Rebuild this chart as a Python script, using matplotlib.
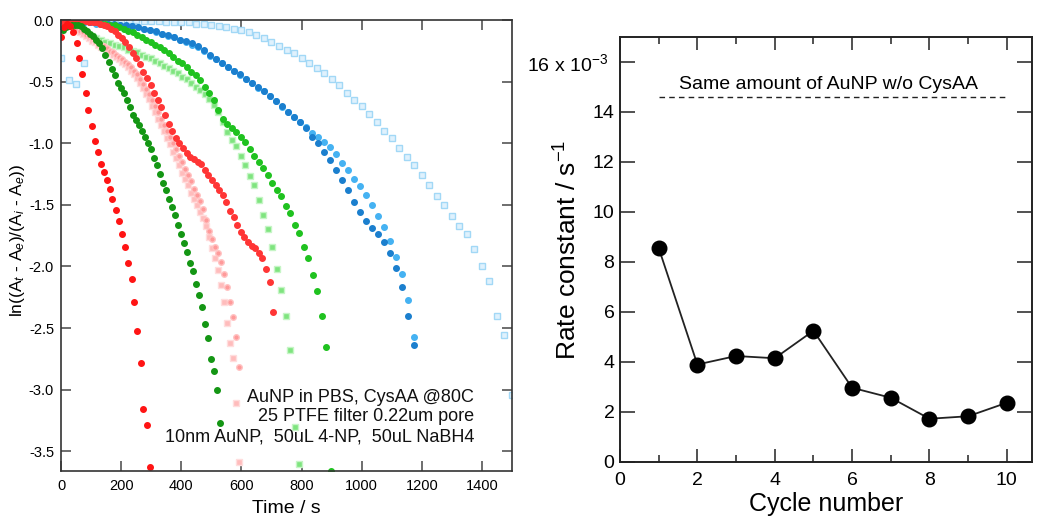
import matplotlib
matplotlib.use('Agg')
import matplotlib.pyplot as plt
import matplotlib.transforms as mtransforms
from matplotlib.ticker import MultipleLocator

plt.rcParams['font.family'] = ['Liberation Sans', 'DejaVu Sans']
plt.rcParams['mathtext.fontset'] = 'custom'
plt.rcParams['mathtext.rm'] = 'Liberation Sans'
plt.rcParams['mathtext.it'] = 'Liberation Sans:italic'
plt.rcParams['mathtext.bf'] = 'Liberation Sans:bold'
plt.rcParams['axes.unicode_minus'] = False

# ---------------- left panel data: ln((At-Ae)/(Ai-Ae)) vs time ----------------
red1_t = [0, 10, 21, 31, 41, 52, 60, 71, 83, 91, 102, 113, 122, 133, 143, 152, 162, 171,
          183, 194, 202, 213, 224, 235, 244, 254, 265, 274, 286, 296]
red1_y = [-0.14, -0.06, -0.03, -0.05, -0.10, -0.19, -0.31, -0.44, -0.59, -0.73, -0.86, -0.98,
          -1.07, -1.17, -1.23, -1.30, -1.37, -1.45, -1.54, -1.63, -1.74, -1.84, -1.97, -2.10,
          -2.29, -2.52, -2.78, -3.16, -3.29, -3.63]

dg1_t = [8, 18, 28, 38, 48, 58, 68, 78, 88, 98, 108, 118, 128, 138, 148, 158, 168, 178, 188,
         198, 208, 218, 228, 238, 248, 258, 268, 278, 288, 298, 308, 318, 328, 338, 348, 358,
         368, 378, 388, 398, 408, 418, 428, 438, 448, 458, 468, 478, 488, 498, 508, 518, 528]
dg1_y = [-0.08, -0.06, -0.05, -0.04, -0.04, -0.04, -0.05, -0.07, -0.09, -0.11, -0.13, -0.16,
         -0.19, -0.23, -0.28, -0.34, -0.40, -0.45, -0.51, -0.55, -0.59, -0.65, -0.71, -0.77,
         -0.81, -0.85, -0.90, -0.95, -1.00, -1.05, -1.12, -1.18, -1.25, -1.32, -1.38, -1.45,
         -1.52, -1.58, -1.66, -1.74, -1.81, -1.88, -1.97, -2.04, -2.14, -2.23, -2.33, -2.47,
         -2.58, -2.75, -2.85, -3.00, -3.27]

red2_t = [10, 22, 34, 46, 58, 70, 82, 94, 106, 118, 130, 142, 154, 166, 178, 190, 202, 214,
          226, 238, 250, 262, 274, 286, 298, 310, 322, 334, 346, 358, 370, 382, 394, 406, 418,
          430, 442, 454, 466, 478, 490, 502, 514, 526, 538, 550, 562, 574, 586, 598, 610, 622,
          634, 646, 658, 670, 682, 694, 706]
red2_y = [-0.02, -0.01, 0.00, 0.00, -0.01, -0.01, -0.01, -0.02, -0.02, -0.02, -0.03, -0.04,
          -0.05, -0.07, -0.09, -0.12, -0.15, -0.18, -0.22, -0.27, -0.31, -0.36, -0.42, -0.47,
          -0.53, -0.59, -0.65, -0.71, -0.77, -0.84, -0.90, -0.96, -1.00, -1.04, -1.08, -1.11,
          -1.13, -1.15, -1.17, -1.22, -1.26, -1.30, -1.34, -1.38, -1.42, -1.48, -1.55, -1.60,
          -1.66, -1.72, -1.76, -1.80, -1.83, -1.85, -1.89, -1.93, -2.02, -2.13, -2.37]

pink_t = [3, 13, 23, 33, 43, 53, 63, 73, 83, 93, 103, 113, 123, 133, 143, 153, 163, 173, 183,
          193, 203, 213, 223, 233, 243, 253, 263, 273, 283, 293, 303, 313, 323, 333, 343, 353,
          363, 373, 383, 393, 403, 413, 423, 433, 443, 453, 463, 473, 483, 493, 503, 513, 523,
          533, 543, 553, 563, 573, 583, 593]
pinkA_y = [-0.06, -0.04, -0.03, -0.04, -0.05, -0.07, -0.09, -0.10, -0.12, -0.13,
           -0.15, -0.16, -0.18, -0.20, -0.21, -0.23, -0.25, -0.26, -0.28, -0.30,
           -0.32, -0.34, -0.36, -0.38, -0.41, -0.44, -0.48, -0.52, -0.56, -0.60,
           -0.65, -0.70, -0.75, -0.80, -0.85, -0.90, -0.95, -1.00, -1.05, -1.10,
           -1.15, -1.21, -1.26, -1.31, -1.37, -1.42, -1.47, -1.53, -1.62, -1.71,
           -1.78, -1.84, -1.89, -1.96, -2.06, -2.17, -2.29, -2.41, -2.57, -2.82]
pinkB_y = [-0.08, -0.05, -0.04, -0.05, -0.06, -0.08, -0.10, -0.11, -0.13, -0.15,
           -0.17, -0.18, -0.20, -0.22, -0.23, -0.25, -0.27, -0.28, -0.30, -0.32,
           -0.34, -0.36, -0.38, -0.41, -0.44, -0.47, -0.51, -0.55, -0.60, -0.64,
           -0.70, -0.75, -0.80, -0.85, -0.90, -0.96, -1.01, -1.07, -1.12, -1.18,
           -1.24, -1.29, -1.34, -1.40, -1.45, -1.50, -1.56, -1.61, -1.67, -1.76,
           -1.85, -1.93, -2.03, -2.15, -2.29, -2.46, -2.62, -2.74, -3.11, -3.59]

lg_t = [13, 28, 43, 58, 73, 88, 103, 118, 133, 148, 163, 178, 193, 208, 223, 238, 253, 268,
        283, 298, 313, 328, 343, 358, 373, 388, 403, 418, 433, 448, 463, 478, 493, 508, 523,
        538, 553, 568, 583, 598, 613, 628, 643, 658, 673, 688, 703, 718, 733, 748, 763, 778, 793]
lg_y = [-0.05, -0.04, -0.05, -0.07, -0.09, -0.11, -0.13, -0.15, -0.16, -0.18,
        -0.19, -0.20, -0.21, -0.22, -0.24, -0.25, -0.26, -0.28, -0.30, -0.31,
        -0.33, -0.35, -0.37, -0.39, -0.41, -0.43, -0.46, -0.48, -0.51, -0.54,
        -0.57, -0.60, -0.64, -0.69, -0.75, -0.83, -0.91, -0.97, -1.02, -1.10,
        -1.18, -1.27, -1.34, -1.46, -1.58, -1.70, -1.84, -2.02, -2.19, -2.40,
        -2.68, -3.30, -3.60]

g2_t = [13, 28, 43, 58, 73, 88, 103, 118, 133, 148, 163, 178, 193, 208, 223, 238, 253, 268,
        283, 298, 313, 328, 343, 358, 373, 388, 403, 418, 433, 448, 463, 478, 493, 508, 523,
        538, 553, 568, 583, 598, 613, 628, 643, 658, 673, 688, 703, 718, 733, 748, 763, 778,
        793, 808, 823, 838, 853, 868, 883, 898]
g2_y = [-0.01, 0.00, 0.00, -0.01, -0.01, -0.01, -0.01, -0.02, -0.03, -0.03,
        -0.04, -0.04, -0.06, -0.07, -0.09, -0.10, -0.12, -0.14, -0.16, -0.18,
        -0.20, -0.22, -0.24, -0.27, -0.30, -0.33, -0.35, -0.38, -0.42, -0.45,
        -0.49, -0.54, -0.59, -0.65, -0.73, -0.80, -0.84, -0.88, -0.91, -0.95,
        -0.99, -1.05, -1.10, -1.15, -1.20, -1.26, -1.32, -1.38, -1.43, -1.51,
        -1.57, -1.66, -1.73, -1.84, -1.93, -2.07, -2.20, -2.40, -2.65, -3.66]

blue_t = [15, 35, 55, 75, 95, 115, 135, 155, 175, 195, 215, 235, 255, 275, 295, 315, 335, 355,
          375, 395, 415, 435, 455, 475, 495, 515, 535, 555, 575, 595, 615, 635, 655, 675, 695,
          715, 735, 755, 775, 795, 815, 835, 855, 875, 895, 915, 935, 955, 975, 995, 1015, 1035,
          1055, 1075, 1095, 1115, 1135, 1155, 1175]
blueA_y = [-0.03, -0.03, -0.02, -0.02, -0.02, -0.02, -0.03, -0.03, -0.03, -0.04,
           -0.04, -0.05, -0.06, -0.07, -0.08, -0.09, -0.11, -0.12, -0.14, -0.16,
           -0.17, -0.19, -0.21, -0.24, -0.28, -0.32, -0.35, -0.38, -0.41, -0.44,
           -0.48, -0.51, -0.54, -0.58, -0.62, -0.66, -0.70, -0.75, -0.79, -0.83,
           -0.88, -0.95, -1.00, -1.07, -1.14, -1.22, -1.30, -1.38, -1.48, -1.56,
           -1.63, -1.69, -1.74, -1.80, -1.89, -2.01, -2.17, -2.40, -2.64]
blueB_y = [-0.04, -0.03, -0.03, -0.02, -0.02, -0.03, -0.03, -0.03, -0.04, -0.04,
           -0.05, -0.05, -0.06, -0.07, -0.08, -0.10, -0.11, -0.13, -0.14, -0.16,
           -0.18, -0.20, -0.22, -0.25, -0.29, -0.32, -0.35, -0.38, -0.41, -0.45,
           -0.48, -0.51, -0.55, -0.58, -0.62, -0.66, -0.71, -0.75, -0.79, -0.83,
           -0.87, -0.92, -0.95, -0.99, -1.03, -1.09, -1.16, -1.22, -1.29, -1.35,
           -1.42, -1.50, -1.59, -1.68, -1.79, -1.92, -2.06, -2.27, -2.57]

lblue_t = [0, 25, 50, 75, 100, 125, 150, 175, 200, 225, 250, 275, 300, 325, 350, 375, 400,
           425, 450, 475, 500, 525, 550, 575, 600, 625, 650, 675, 700, 725, 750, 775, 800, 825,
           850, 875, 900, 925, 950, 975, 1000, 1025, 1050, 1075, 1100, 1125, 1150, 1175, 1200,
           1225, 1250, 1275, 1300, 1325, 1350, 1375, 1400, 1425, 1450, 1475, 1500]
lblue_y = [-0.31, -0.49, -0.52, -0.35, -0.01, -0.01, 0.00, 0.00, 0.00, 0.00,
           0.00, -0.01, -0.01, -0.01, -0.02, -0.02, -0.02, -0.02, -0.03, -0.03,
           -0.04, -0.05, -0.06, -0.07, -0.08, -0.10, -0.12, -0.15, -0.18, -0.21,
           -0.24, -0.27, -0.31, -0.35, -0.39, -0.43, -0.48, -0.53, -0.59, -0.65,
           -0.70, -0.76, -0.83, -0.90, -0.96, -1.04, -1.11, -1.18, -1.26, -1.34,
           -1.43, -1.50, -1.59, -1.67, -1.74, -1.86, -2.00, -2.12, -2.40, -2.56,
           -3.04]

annotation_lines = ["AuNP in PBS, CysAA @80C",
                    "25 PTFE filter 0.22um pore",
                    "10nm AuNP,  50uL 4-NP,  50uL NaBH4"]

# ---------------- right panel data: rate constant vs cycle ----------------
cycles = [1, 2, 3, 4, 5, 6, 7, 8, 9, 10]
rate_k = [8.56, 3.90, 4.24, 4.15, 5.25, 2.97, 2.57, 1.73, 1.83, 2.37]   # x 10^-3 s^-1
ref_level = 14.6                                                      # x 10^-3 s^-1
ref_span = [1, 10]
ref_text = "Same amount of AuNP w/o CysAA"
yticks_r = [0, 2, 4, 6, 8, 10, 12, 14, 16]
ytick_labels_r = ['0', '2', '4', '6', '8', '10', '12', '14', r'16 x 10$^{-3}$']

W, H = 1039, 517
fig = plt.figure(figsize=(W / 100, H / 100), dpi=100)

# ---------- left panel ----------
ax = fig.add_axes([61 / W, 1 - 471 / H, 451 / W, 451 / H])

series = [
    (lblue_t, lblue_y, 's', 3.7, '#dff1fd', '#a2d8f6'),
    (blue_t, blueB_y, 'o', 4.0, '#45b2f2', '#45b2f2'),
    (blue_t, blueA_y, 'o', 4.0, '#1b7fce', '#1b7fce'),
    (lg_t, lg_y, 's', 3.8, '#7fe47f', '#c6f5c6'),
    (g2_t, g2_y, 'o', 4.0, '#1fc21f', '#1fc21f'),
    (pink_t, pinkB_y, 's', 3.8, '#ffbcbc', '#ffdede'),
    (pink_t, pinkA_y, 'o', 4.0, '#ff9a9a', '#ffc4c4'),
    (red2_t, red2_y, 'o', 4.0, '#ff3535', '#ff3535'),
    (dg1_t, dg1_y, 'o', 4.0, '#149614', '#149614'),
    (red1_t, red1_y, 'o', 4.0, '#ff1414', '#ff1414'),
]
for t, y, mk, ms, fc, ec in series:
    ax.plot(t, y, linestyle='none', marker=mk, ms=ms, mfc=fc, mec=ec, mew=1.0)

ax.set_xlim(0, 1500)
ax.set_ylim(-3.66, 0)
ax.set_xticks([0, 200, 400, 600, 800, 1000, 1200, 1400])
ax.set_yticks([0.0, -0.5, -1.0, -1.5, -2.0, -2.5, -3.0, -3.5])
ax.set_yticklabels(['0.0', '-0.5', '-1.0', '-1.5', '-2.0', '-2.5', '-3.0', '-3.5'])
ax.tick_params(axis='both', direction='in', length=7.5, width=1.2, color='#555555',
               top=True, right=True, labelsize=10.5)
ax.tick_params(axis='y', pad=5)
ax.tick_params(axis='x', pad=6)
for sp in ax.spines.values():
    sp.set_linewidth(1.2)
    sp.set_color('#333333')
ax.set_xlabel('Time / s', fontsize=14)
ax.xaxis.set_label_coords(0.5, -0.064)
ax.set_ylabel(r'ln((A$_t$ - A$_e$)/(A$_i$ - A$_e$))', fontsize=12.5)
ax.yaxis.set_label_coords(-0.075, 0.512)

for line, yy in zip(annotation_lines, [0.164, 0.120, 0.0754]):
    ax.text(0.916, yy, line, transform=ax.transAxes, ha='right', va='center',
            fontsize=13, color='#111111')

# ---------- right panel ----------
ax2 = fig.add_axes([620 / W, 1 - 462 / H, 412 / W, 425 / H])
ax2.plot(cycles, rate_k, '-', color='#222222', lw=1.3, marker='o', ms=10.5,
         mfc='black', mec='black', zorder=3)
ax2.plot(ref_span, [ref_level, ref_level], linestyle=(0, (4, 3)), color='#222222', lw=1.0)
ax2.text(5.40, 15.08, ref_text, ha='center', va='center', fontsize=14)

ax2.set_xlim(0, 10.65)
ax2.set_ylim(0, 17)
ax2.set_xticks([0, 2, 4, 6, 8, 10])
ax2.xaxis.set_minor_locator(MultipleLocator(1))
ax2.set_yticks(yticks_r)
ax2.set_yticklabels(ytick_labels_r)
ax2.tick_params(axis='x', which='major', direction='in', length=9.5, width=1.2,
                color='#333333', top=True, labelsize=14, pad=7)
ax2.tick_params(axis='x', which='minor', direction='in', length=5, width=1.2,
                color='#333333', top=True)
ax2.tick_params(axis='y', which='major', direction='in', length=10.5, width=1.2,
                color='#333333', right=True, labelsize=14, pad=4)
# the top label sits a little further left in the reference
top_lab = ax2.get_yticklabels()[-1]
top_lab.set_transform(top_lab.get_transform() +
                      mtransforms.ScaledTranslation(-6 / 100, 0, fig.dpi_scale_trans))
for sp in ax2.spines.values():
    sp.set_linewidth(1.4)
    sp.set_color('#222222')
ax2.set_xlabel('Cycle number', fontsize=18)
ax2.xaxis.set_label_coords(0.5, -0.07)
ax2.set_ylabel(r'Rate constant / s$^{-1}$', fontsize=19)
ax2.yaxis.set_label_coords(-0.092, 0.5)

fig.savefig('out.png', dpi=100)
